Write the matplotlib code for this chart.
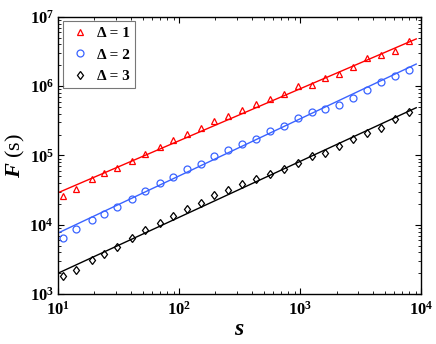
import numpy as np
import matplotlib
matplotlib.use("Agg")
import matplotlib.pyplot as plt

# window sizes s
s = [11, 14, 19, 24, 31, 41, 52, 69, 89, 116, 151, 195, 254, 331, 433,
     565, 733, 955, 1245, 1620, 2110, 2760, 3550, 4640, 6040, 7900]

# fluctuation functions F(s)
F1 = [2.60e4, 3.28e4, 4.58e4, 5.53e4, 6.6e4, 8.4e4, 1.06e5, 1.34e5, 1.67e5,
      2.04e5, 2.47e5, 3.12e5, 3.72e5, 4.5e5, 5.5e5, 6.5e5, 7.66e5, 9.9e5,
      1.03e6, 1.32e6, 1.52e6, 1.90e6, 2.53e6, 2.86e6, 3.23e6, 4.5e6]
F2 = [6.4e3, 8.8e3, 1.16e4, 1.42e4, 1.80e4, 2.38e4, 3.04e4, 3.97e4, 4.94e4,
      6.4e4, 7.6e4, 9.8e4, 1.2e5, 1.45e5, 1.73e5, 2.26e5, 2.69e5, 3.48e5,
      4.2e5, 4.74e5, 5.42e5, 6.77e5, 8.8e5, 1.13e6, 1.41e6, 1.72e6]
F3 = [1.82e3, 2.22e3, 3.07e3, 3.78e3, 4.82e3, 6.4e3, 8.4e3, 1.05e4, 1.32e4,
      1.71e4, 2.08e4, 2.66e4, 3.14e4, 3.87e4, 4.53e4, 5.46e4, 6.32e4, 7.7e4,
      9.9e4, 1.10e5, 1.37e5, 1.71e5, 2.13e5, 2.52e5, 3.33e5, 4.29e5]

# fitted power laws: F(10) and exponent
fit_F10 = [2.9e4, 7.6e3, 2.0e3]
fit_alpha = [0.75, 0.824, 0.807]
fit_range = [10, 9100]

labels = ["\u0394 = 1", "\u0394 = 2", "\u0394 = 3"]
colors = ["#ff0000", "#3a63ff", "#000000"]
markers = ["^", "o", "d"]
msizes = [5, 5, 4.5]

plt.rcParams["font.family"] = ["Liberation Serif", "DejaVu Serif"]
plt.rcParams["font.weight"] = "bold"
plt.rcParams["mathtext.fontset"] = "custom"
plt.rcParams["mathtext.rm"] = "Liberation Serif:bold"
plt.rcParams["mathtext.it"] = "Liberation Serif:italic:bold"
plt.rcParams["mathtext.bf"] = "Liberation Serif:bold"

fig = plt.figure(figsize=(4.36, 3.44), dpi=100)
ax = fig.add_axes([0.133, 0.145, 0.833, 0.806])

xs = np.array(fit_range, dtype=float)
for F, a0, al, lab, c, m, ms in zip([F1, F2, F3], fit_F10, fit_alpha, labels, colors, markers, msizes):
    ax.plot(s, F, linestyle="none", marker=m, markersize=ms,
            markerfacecolor="none", markeredgecolor=c, markeredgewidth=0.9, label=lab)
    ax.plot(xs, a0 * (xs / 10.0) ** al, color=c, linewidth=1.0)

ax.set_xscale("log")
ax.set_yscale("log")
ax.set_xlim(10, 1e4)
ax.set_ylim(1e3, 1e7)

ax.tick_params(which="both", direction="in", top=True, right=True, labelsize=12)
ax.tick_params(which="major", length=4, width=0.8)
ax.tick_params(which="minor", length=2.5, width=0.6)
ax.tick_params(axis="x", pad=5)
ax.tick_params(axis="y", pad=3)
for sp in ax.spines.values():
    sp.set_linewidth(1.0)

ax.set_xlabel("$s$", fontsize=17, labelpad=0)
ax.set_ylabel("$F$ (s)", fontsize=16)
ax.yaxis.set_label_coords(-0.085, 0.5)

leg = ax.legend(loc="upper left", fontsize=11, frameon=True, fancybox=False,
                edgecolor="#555555", handlelength=1.6, handletextpad=0.3,
                borderpad=0.35, labelspacing=0.5, borderaxespad=0.3)
leg.get_frame().set_linewidth(0.8)

plt.savefig("out.png", dpi=100)
plt.close()
